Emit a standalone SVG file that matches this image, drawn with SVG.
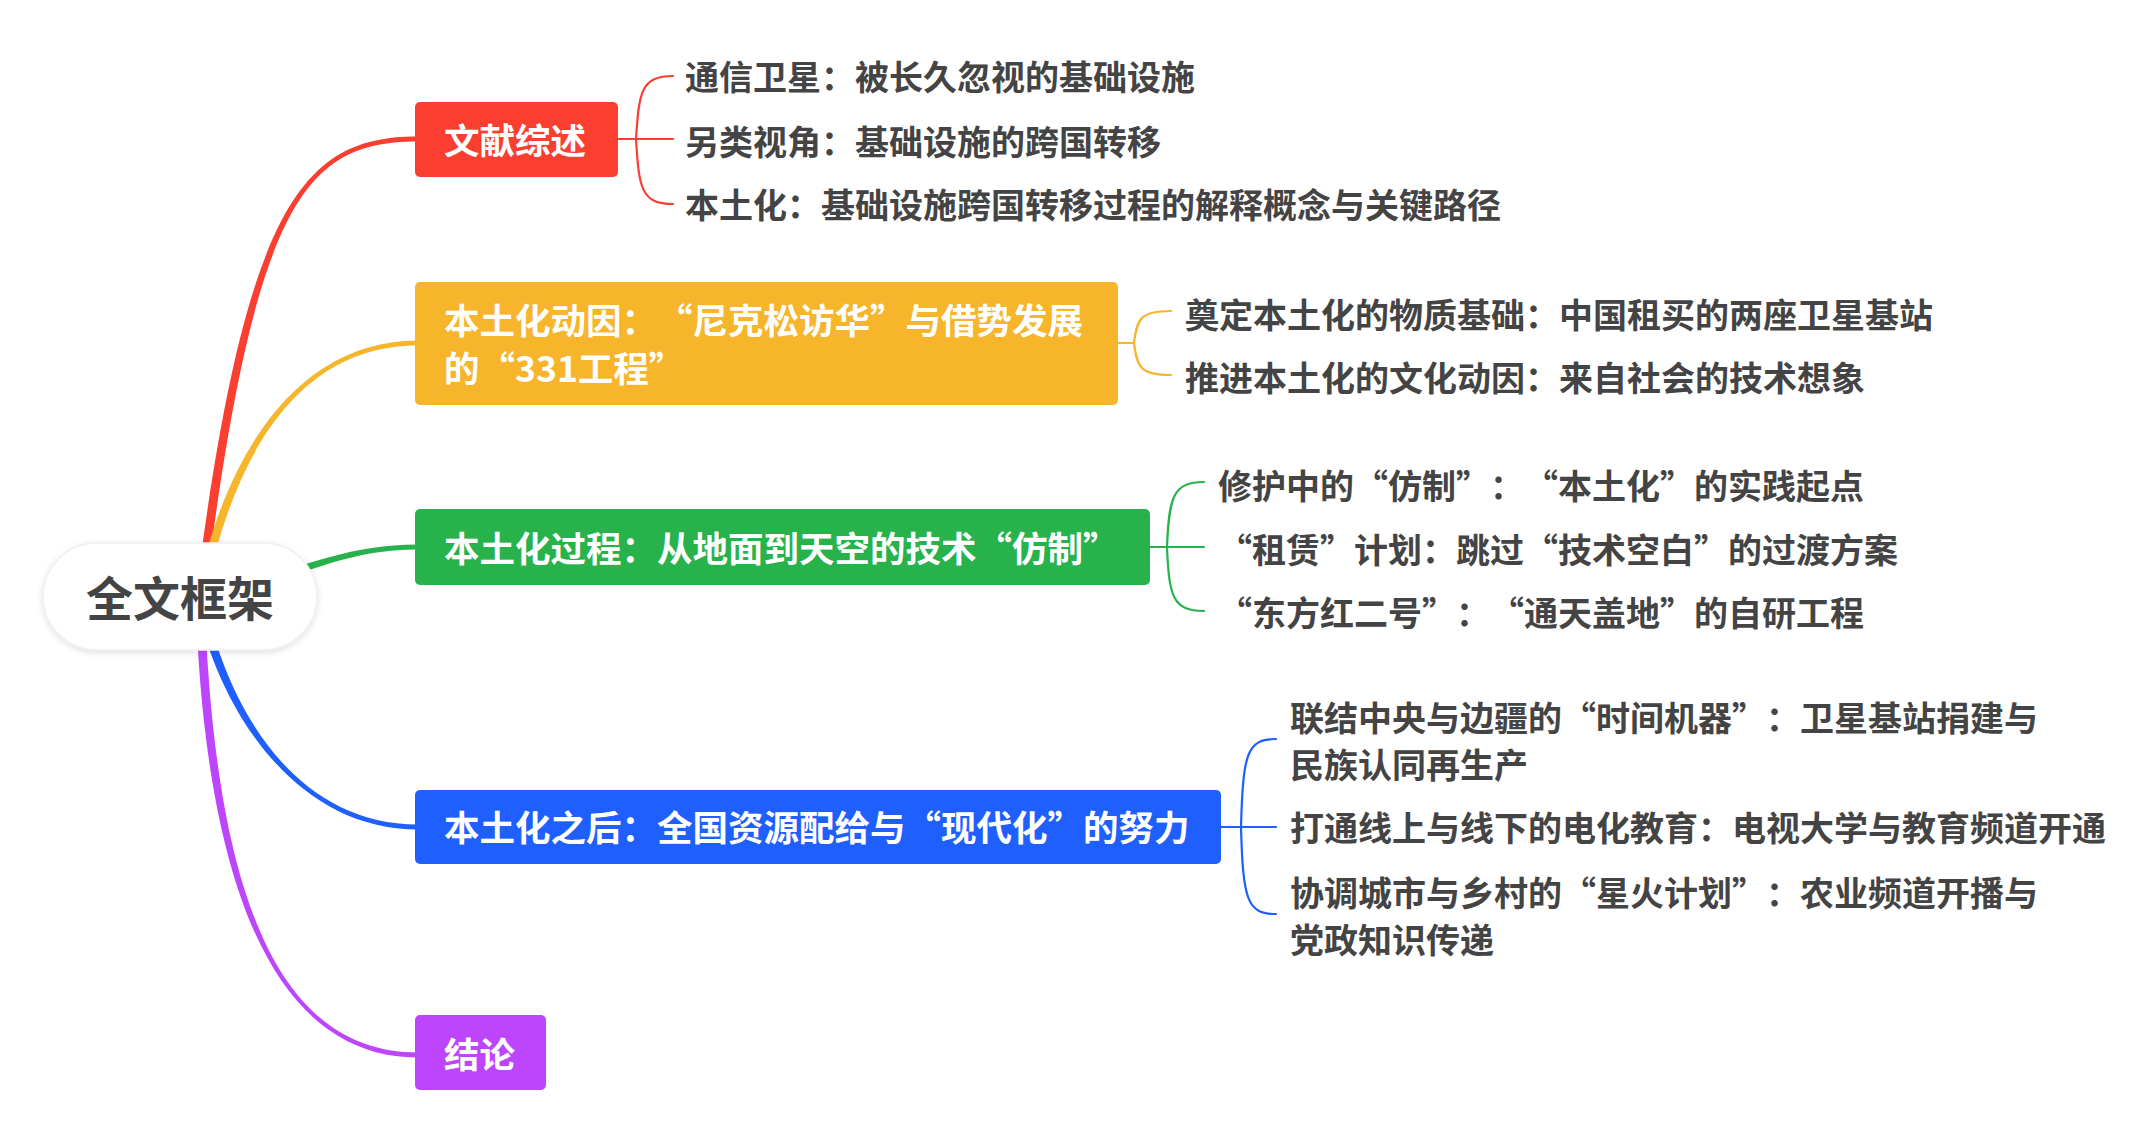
<svg xmlns="http://www.w3.org/2000/svg" width="2155" height="1140" viewBox="0 0 2155 1140">
<defs>
<style>
.t{font-family:"Noto Sans CJK SC","Noto Sans CJK TC",sans-serif;font-weight:bold;text-spacing-trim:space-all;font-feature-settings:"halt" 0,"chws" 0}
.bt{font-size:35.5px;fill:#ffffff}
.ct{font-size:34px;fill:#444444}
.br{fill:none;stroke-width:2.2;stroke-linecap:round}
</style>
<filter id="sh" x="-20%" y="-30%" width="140%" height="160%">
<feDropShadow dx="0" dy="2" stdDeviation="3" flood-color="#000" flood-opacity="0.12"/>
</filter>
</defs>
<rect width="2155" height="1140" fill="#ffffff"/>
<g id="connectors">
<path d="M204.5,598.6 C254.5,200.6 305,141.5 418,141.5 L418,136.5 C305,136.5 245.5,199.4 195.5,597.4 Z" fill="#FA3E30"/>
<path d="M204.4,598.9 C234.4,450.9 300,345.5 418,345.5 L418,340.5 C300,340.5 225.6,449.1 195.6,597.1 Z" fill="#F7B52B"/>
<path d="M200.7,602.4 C280.7,589.4 330,549.5 418,549.5 L418,544.5 C330,544.5 279.3,580.6 199.3,593.6 Z" fill="#27B24B"/>
<path d="M204.4,597.1 C224.4,699.1 290,824.5 418,824.5 L418,829.5 C290,829.5 215.6,700.9 195.6,598.9 Z" fill="#1F5FFE"/>
<path d="M204.5,597.85 C214.5,899.85 280,1052.5 418,1052.5 L418,1057.5 C280,1057.5 205.5,900.15 195.5,598.15 Z" fill="#BD46FD"/>
<path class="br" stroke="#FA3E30" d="M618,139 H673 M636,139 C639,92 641,76 673,76 M636,139 C639,188 641,204 673,204"/>
<path class="br" stroke="#F7B52B" d="M1118,343 H1134 C1137,318 1141,311 1171,311 M1134,343 C1137,368 1141,375 1171,375"/>
<path class="br" stroke="#27B24B" d="M1150,547 H1204 M1167,547 C1169,497 1173,482 1204,482 M1167,547 C1169,597 1173,611 1204,611"/>
<path class="br" stroke="#1F5FFE" d="M1221,827 H1276 M1241,827 C1243,753 1247,739 1276,739 M1241,827 C1243,900 1247,914 1276,914"/>
</g>
<g id="root">
<rect x="43" y="543" width="274" height="107" rx="53.5" fill="#ffffff" stroke="#efefef" stroke-width="1.5" filter="url(#sh)"/>
<text class="t" x="180" y="615.5" font-size="47" fill="#444444" text-anchor="middle">全文框架</text>
</g>
<g id="b1">
<rect x="415" y="102" width="203" height="75" rx="5" fill="#FA3E30"/>
<text class="t bt" x="444" y="153.5">文献综述</text>
</g>
<g id="b1c1"><text class="t ct" x="685" y="90">通信卫星：被长久忽视的基础设施</text></g>
<g id="b1c2"><text class="t ct" x="685" y="155">另类视角：基础设施的跨国转移</text></g>
<g id="b1c3"><text class="t ct" x="685" y="218">本土化：基础设施跨国转移过程的解释概念与关键路径</text></g>
<g id="b2">
<rect x="415" y="282" width="703" height="123" rx="5" fill="#F7B52B"/>
<text class="t bt" x="444" y="334">本土化动因：“尼克松访华”与借势发展</text>
<text class="t bt" x="444" y="382">的“331工程”</text>
</g>
<g id="b2c1"><text class="t ct" x="1185" y="328">奠定本土化的物质基础：中国租买的两座卫星基站</text></g>
<g id="b2c2"><text class="t ct" x="1185" y="391">推进本土化的文化动因：来自社会的技术想象</text></g>
<g id="b3">
<rect x="415" y="509" width="735" height="76" rx="5" fill="#27B24B"/>
<text class="t bt" x="444" y="562">本土化过程：从地面到天空的技术“仿制”</text>
</g>
<g id="b3c1"><text class="t ct" x="1218" y="499">修护中的“仿制”：“本土化”的实践起点</text></g>
<g id="b3c2"><text class="t ct" x="1218" y="563">“租赁”计划：跳过“技术空白”的过渡方案</text></g>
<g id="b3c3"><text class="t ct" x="1218" y="626">“东方红二号”：“通天盖地”的自研工程</text></g>
<g id="b4">
<rect x="415" y="790" width="806" height="74" rx="5" fill="#1F5FFE"/>
<text class="t bt" x="444" y="840.5">本土化之后：全国资源配给与“现代化”的努力</text>
</g>
<g id="b4c1"><text class="t ct" x="1290" y="731">联结中央与边疆的“时间机器”：卫星基站捐建与</text><text class="t ct" x="1290" y="778">民族认同再生产</text></g>
<g id="b4c2"><text class="t ct" x="1290" y="841">打通线上与线下的电化教育：电视大学与教育频道开通</text></g>
<g id="b4c3"><text class="t ct" x="1290" y="906">协调城市与乡村的“星火计划”：农业频道开播与</text><text class="t ct" x="1290" y="953">党政知识传递</text></g>
<g id="b5">
<rect x="415" y="1015" width="131" height="75" rx="5" fill="#BD46FD"/>
<text class="t bt" x="444" y="1068">结论</text>
</g>
</svg>
